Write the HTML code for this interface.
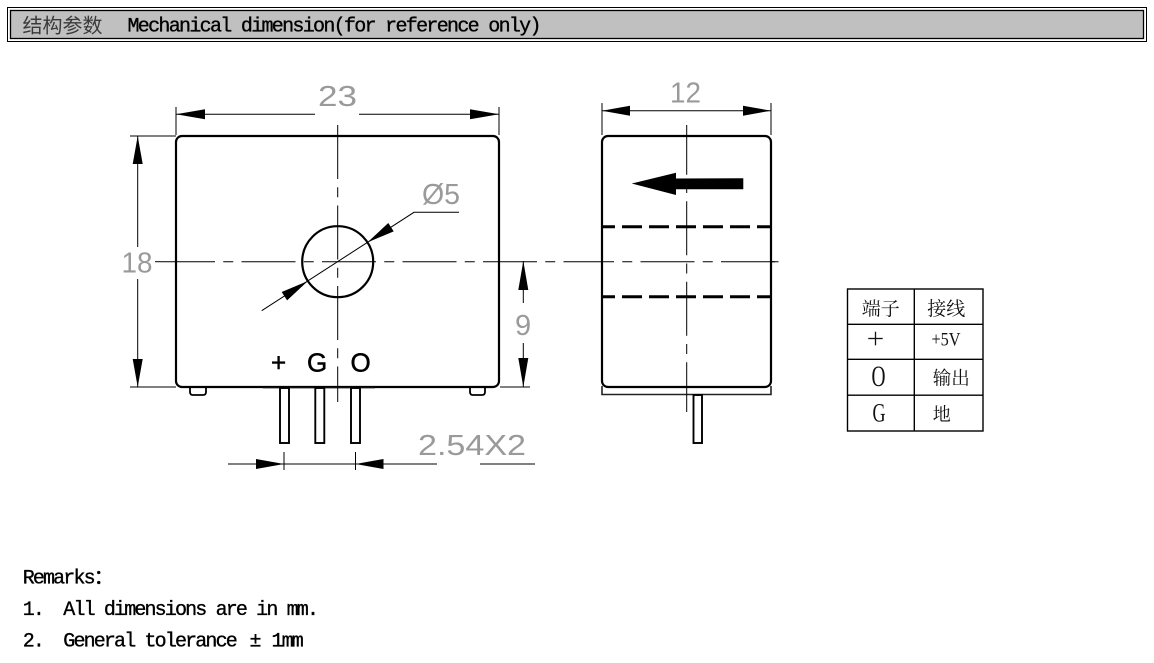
<!DOCTYPE html>
<html>
<head>
<meta charset="utf-8">
<style>
  html,body{margin:0;padding:0;background:#fff;}
  svg{display:block;}
  .dim{font-family:"Liberation Sans",sans-serif;fill:#9a9a9a;font-size:29px;}
  .mono{font-family:"Liberation Mono","Noto Sans CJK SC",monospace;font-size:20px;fill:#000;stroke:#000;stroke-width:0.35px;letter-spacing:-1.85px;}
  .cjk{font-family:"Noto Serif CJK SC","Noto Sans CJK SC",serif;fill:#111;}
  .ser{font-family:"Liberation Serif",serif;fill:#111;}
</style>
</head>
<body>
<svg width="1154" height="663" viewBox="0 0 1154 663" xmlns="http://www.w3.org/2000/svg">
  <!-- Header bar -->
  <rect x="7.5" y="7.5" width="1139" height="34" fill="none" stroke="#000" stroke-width="1"/>
  <rect x="10.5" y="10.5" width="1133" height="28" fill="#c0c0c0" stroke="#000" stroke-width="1.3"/>
  <text x="22.5" y="32.5" font-family="'Liberation Sans','Noto Sans CJK SC',sans-serif" font-size="20" fill="#3a3a3a">结构参数</text>
  <text x="127.5" y="31.7" font-family="'Liberation Mono',monospace" font-size="20" fill="#000" stroke="#000" stroke-width="0.35" textLength="414" lengthAdjust="spacing">Mechanical dimension(for reference only)</text>

  <!-- ================= FRONT VIEW ================= -->
  <!-- 23 dimension -->
  <line x1="176" y1="107" x2="176" y2="135" stroke="#000" stroke-width="1"/>
  <line x1="499" y1="107" x2="499" y2="135" stroke="#000" stroke-width="1"/>
  <line x1="176" y1="114.3" x2="315" y2="114.3" stroke="#000" stroke-width="1"/>
  <line x1="359" y1="114.3" x2="499" y2="114.3" stroke="#000" stroke-width="1"/>
  <polygon points="176,114.3 205,109.3 205,119.3" fill="#000"/>
  <polygon points="499,114.3 470,109.3 470,119.3" fill="#000"/>
  <text class="dim" x="318" y="106" textLength="39" lengthAdjust="spacingAndGlyphs">23</text>

  <!-- 18 dimension -->
  <line x1="130" y1="136" x2="176" y2="136" stroke="#000" stroke-width="1"/>
  <line x1="130" y1="387" x2="176" y2="387" stroke="#000" stroke-width="1"/>
  <line x1="137.7" y1="136" x2="137.7" y2="247" stroke="#000" stroke-width="1"/>
  <line x1="137.7" y1="279" x2="137.7" y2="387" stroke="#000" stroke-width="1"/>
  <polygon points="137.7,136 132.7,164 142.7,164" fill="#000"/>
  <polygon points="137.7,387 132.7,359 142.7,359" fill="#000"/>
  <text class="dim" x="121.5" y="272.7" textLength="31" lengthAdjust="spacingAndGlyphs">18</text>

  <!-- body -->
  <rect x="176" y="136" width="323" height="251" rx="6" ry="6" fill="none" stroke="#000" stroke-width="2.2"/>
  <!-- feet -->
  <path d="M190,388 V392 Q190,395 193,395 H203 Q206,395 206,392 V388" fill="none" stroke="#000" stroke-width="1.8"/>
  <path d="M470,388 V392 Q470,395 473,395 H482 Q485,395 485,392 V388" fill="none" stroke="#000" stroke-width="1.8"/>
  <line x1="263" y1="388.3" x2="375" y2="388.3" stroke="#888" stroke-width="0.8"/>
  <!-- pins -->
  <rect x="280" y="388" width="9" height="55" fill="#fff" stroke="#000" stroke-width="1.9"/>
  <rect x="315.3" y="388" width="9" height="55" fill="#fff" stroke="#000" stroke-width="1.9"/>
  <rect x="351" y="388" width="9" height="55" fill="#fff" stroke="#000" stroke-width="1.9"/>

  <!-- center lines -->
  <line x1="155" y1="261.7" x2="161" y2="261.7" stroke="#000" stroke-width="1"/>
  <line x1="161" y1="261.7" x2="783" y2="261.7" stroke="#000" stroke-width="1" stroke-dasharray="54 8.25 10 8.25"/>
  <line x1="337.7" y1="125" x2="337.7" y2="402" stroke="#000" stroke-width="1" stroke-dasharray="54 8.25 10 8.25"/>

  <!-- hole -->
  <circle cx="337.7" cy="261.7" r="35.5" fill="none" stroke="#000" stroke-width="2.2"/>
  <!-- diameter leader -->
  <polyline points="261.7,310.7 414,212.3 459,212.3" fill="none" stroke="#000" stroke-width="1"/>
  <polygon points="307.9,281 287.1,300.4 281.7,292.0" fill="#000"/>
  <polygon points="367.5,242.4 393.7,231.4 388.3,223.0" fill="#000"/>
  <text class="dim" x="422" y="204" textLength="38" lengthAdjust="spacingAndGlyphs">Ø5</text>

  <!-- pin labels -->
  <text x="271" y="371.5" font-family="'Liberation Sans',sans-serif" font-size="26" fill="#000" stroke="#000" stroke-width="0.5">+</text>
  <text x="307" y="371.5" font-family="'Liberation Sans',sans-serif" font-size="26" fill="#000" stroke="#000" stroke-width="0.5">G</text>
  <text x="350.5" y="371.5" font-family="'Liberation Sans',sans-serif" font-size="26" fill="#000" stroke="#000" stroke-width="0.5">O</text>

  <!-- 9 dimension -->
  <line x1="500" y1="387" x2="530" y2="387" stroke="#000" stroke-width="1"/>
  <line x1="523.3" y1="261" x2="523.3" y2="303" stroke="#000" stroke-width="1"/>
  <line x1="523.3" y1="343" x2="523.3" y2="387" stroke="#000" stroke-width="1"/>
  <polygon points="523.3,261 518.3,290 528.3,290" fill="#000"/>
  <polygon points="523.3,387 518.3,358 528.3,358" fill="#000"/>
  <text class="dim" x="515" y="335">9</text>

  <!-- 2.54X2 dimension -->
  <line x1="284" y1="452" x2="284" y2="470" stroke="#000" stroke-width="1"/>
  <line x1="355.5" y1="452" x2="355.5" y2="470" stroke="#000" stroke-width="1"/>
  <line x1="228" y1="464" x2="437" y2="464" stroke="#000" stroke-width="1"/>
  <line x1="480" y1="464" x2="535" y2="464" stroke="#000" stroke-width="1"/>
  <polygon points="284,464 256,459 256,469" fill="#000"/>
  <polygon points="355.5,464 383.5,459 383.5,469" fill="#000"/>
  <text class="dim" x="418" y="455" textLength="108" lengthAdjust="spacingAndGlyphs">2.54X2</text>

  <!-- ================= SIDE VIEW ================= -->
  <!-- 12 dimension -->
  <line x1="602" y1="103" x2="602" y2="135" stroke="#000" stroke-width="1"/>
  <line x1="771" y1="103" x2="771" y2="135" stroke="#000" stroke-width="1"/>
  <line x1="602" y1="110.7" x2="771" y2="110.7" stroke="#000" stroke-width="1"/>
  <polygon points="602,110.7 630,105.7 630,115.7" fill="#000"/>
  <polygon points="771,110.7 743,105.7 743,115.7" fill="#000"/>
  <text class="dim" x="670" y="102.3" textLength="31" lengthAdjust="spacingAndGlyphs">12</text>

  <!-- base plate -->
  <path d="M602,386 V394.5 H771 V386" fill="none" stroke="#222" stroke-width="1.6"/>
  <!-- body -->
  <rect x="602" y="136" width="169" height="251" rx="6" ry="6" fill="#fff" stroke="#000" stroke-width="2.2"/>
  <!-- pin -->
  <rect x="693.5" y="395" width="8.5" height="48" fill="#fff" stroke="#000" stroke-width="1.9"/>
  <!-- dashed hidden lines -->
  <line x1="602" y1="226.7" x2="771" y2="226.7" stroke="#000" stroke-width="3" stroke-dasharray="20 7" stroke-dashoffset="7"/>
  <line x1="602" y1="296.7" x2="771" y2="296.7" stroke="#000" stroke-width="3" stroke-dasharray="20 7" stroke-dashoffset="7"/>
  <!-- center lines (side) -->
  <line x1="602" y1="261.7" x2="783" y2="261.7" stroke="#000" stroke-width="1" stroke-dasharray="54 8.25 10 8.25" stroke-dashoffset="-38.5"/>
  <line x1="686.7" y1="125" x2="686.7" y2="412" stroke="#000" stroke-width="1" stroke-dasharray="54 8.25 10 8.25" stroke-dashoffset="4.3"/>
  <!-- current direction arrow -->
  <polygon points="631.7,183.5 676,172.7 676,178.5 743.3,178.3 743.3,189.3 676,189.3 676,195" fill="#000"/>

  <!-- ================= TABLE ================= -->
  <g stroke="#000" stroke-width="1.4" fill="none">
    <rect x="847.5" y="289" width="135.5" height="142"/>
    <line x1="914.3" y1="289" x2="914.3" y2="431"/>
    <line x1="847.5" y1="324.3" x2="983" y2="324.3"/>
    <line x1="847.5" y1="359.3" x2="983" y2="359.3"/>
    <line x1="847.5" y1="395.2" x2="983" y2="395.2"/>
  </g>
  <text class="cjk" x="861.7" y="315" font-size="19">端子</text>
  <text class="cjk" x="927.3" y="315" font-size="19">接线</text>
  <line x1="868.3" y1="338.5" x2="882.7" y2="338.5" stroke="#111" stroke-width="1.3"/>
  <line x1="875.5" y1="331.7" x2="875.5" y2="345.3" stroke="#111" stroke-width="1.3"/>
  <text class="ser" x="931.5" y="345.5" font-size="19" textLength="29" lengthAdjust="spacingAndGlyphs">+5V</text>
  <text class="ser" x="871.5" y="386" font-size="30" textLength="14" lengthAdjust="spacingAndGlyphs">O</text>
  <text class="cjk" x="932.7" y="384.5" font-size="18.5">输出</text>
  <text class="ser" x="872.5" y="421.7" font-size="26" textLength="13" lengthAdjust="spacingAndGlyphs">G</text>
  <text class="cjk" x="932.7" y="420.5" font-size="18">地</text>

  <!-- ================= REMARKS ================= -->
  <text class="mono" x="22.7" y="583.3">Remarks：</text>
  <text class="mono" x="22.7" y="615">1.</text>
  <text class="mono" x="63.3" y="615">All dimensions are in mm.</text>
  <text class="mono" x="22.7" y="646.7">2.</text>
  <text class="mono" x="63.3" y="646.7">General tolerance</text>
  <text class="mono" x="249.5" y="646.7">±</text>
  <text class="mono" x="271.5" y="646.7">1mm</text>
</svg>
</body>
</html>
